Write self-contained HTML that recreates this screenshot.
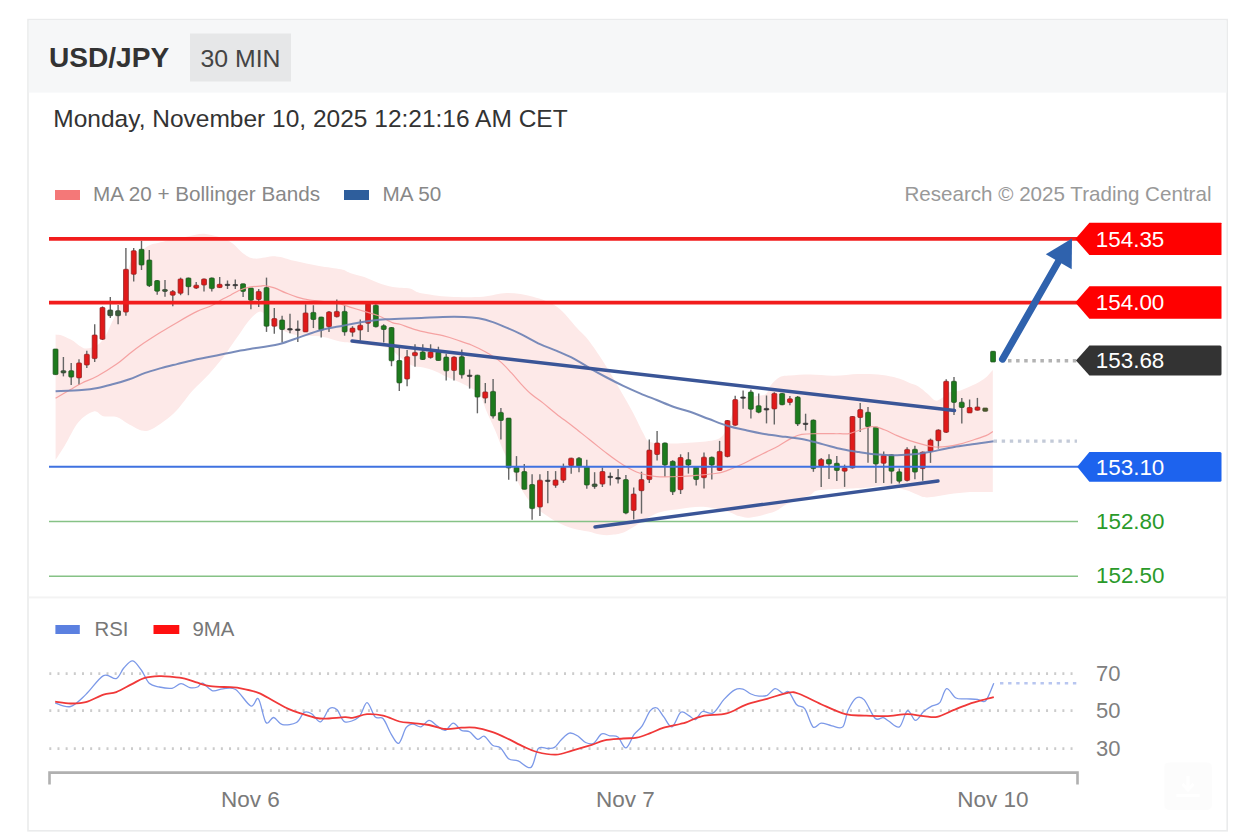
<!DOCTYPE html>
<html><head><meta charset="utf-8"><style>
html,body{margin:0;padding:0;background:#fff;width:1260px;height:840px;overflow:hidden}
svg{display:block;font-family:'Liberation Sans', sans-serif}
</style></head><body>
<svg width="1260" height="840" viewBox="0 0 1260 840">
<rect x="0" y="0" width="1260" height="840" fill="#fff"/>
<rect x="28" y="19.6" width="1199.2" height="811.2" fill="#fff" stroke="#eaebec" stroke-width="1.6"/>
<rect x="28.8" y="20.4" width="1197.6" height="72.2" fill="#f6f7f8"/>
<text x="49" y="67.3" font-size="28.1" font-weight="bold" fill="#333">USD/JPY</text>
<rect x="190" y="33.5" width="101" height="48" fill="#e6e7e8"/>
<text x="200.5" y="66.5" font-size="24.8" fill="#444">30 MIN</text>
<text x="53.3" y="126.7" font-size="24.5" fill="#333">Monday, November 10, 2025 12:21:16 AM CET</text>
<rect x="55" y="190" width="25" height="10" fill="#f47878"/>
<text x="93" y="201.4" font-size="20.7" fill="#888">MA 20 + Bollinger Bands</text>
<rect x="344" y="190" width="25" height="10" fill="#2e5e9c"/>
<text x="382.5" y="201.4" font-size="20.7" fill="#888">MA 50</text>
<text x="1211.5" y="201.4" font-size="20.6" fill="#999" text-anchor="end">Research © 2025 Trading Central</text>
<rect x="28.8" y="596.4" width="1197.6" height="2" fill="#f3f3f3"/>

<path d="M55.6,334.6 C56.6,334.8 59.8,334.9 61.9,335.5 C64.0,336.1 65.9,337.2 67.9,338.2 C69.9,339.1 71.8,339.9 73.8,341.2 C75.8,342.5 77.9,344.8 79.8,346.0 C81.7,347.2 83.0,348.2 85.0,348.5 C87.0,348.8 89.5,348.4 92.0,347.5 C94.5,346.6 97.7,345.1 100.0,343.0 C102.3,340.9 104.0,338.5 106.0,335.0 C108.0,331.5 110.0,326.2 112.0,322.0 C114.0,317.8 116.2,314.2 118.0,310.0 C119.8,305.8 121.5,302.8 123.0,297.0 C124.5,291.2 125.5,281.3 127.0,275.0 C128.5,268.7 130.2,262.8 132.0,259.0 C133.8,255.2 136.3,253.5 138.0,252.0 C139.7,250.5 140.0,251.2 142.0,250.0 C144.0,248.8 147.3,246.2 150.0,245.0 C152.7,243.8 154.7,243.8 158.0,243.0 C161.3,242.2 164.7,241.2 170.0,240.0 C175.3,238.8 184.0,237.0 190.0,236.0 C196.0,235.0 199.5,233.2 206.0,234.0 C212.5,234.8 222.7,237.7 229.0,241.0 C235.3,244.3 239.7,251.1 244.0,254.0 C248.3,256.9 249.7,258.2 255.0,258.6 C260.3,259.0 269.5,256.0 276.0,256.4 C282.5,256.8 286.8,259.1 294.0,260.7 C301.2,262.3 311.2,264.6 319.0,266.0 C326.8,267.4 335.8,268.2 341.0,269.3 C346.2,270.4 346.1,271.6 350.0,272.9 C353.9,274.2 359.5,275.3 364.3,277.0 C369.1,278.7 373.8,281.2 378.6,282.9 C383.4,284.6 387.7,286.1 392.9,287.0 C398.1,287.9 405.5,287.6 410.0,288.6 C414.5,289.6 413.3,291.5 420.0,292.9 C426.7,294.2 439.5,296.1 450.0,296.7 C460.5,297.3 473.5,297.3 483.0,296.7 C492.5,296.1 498.7,293.0 507.0,293.0 C515.3,293.0 524.7,294.4 533.0,296.7 C541.3,299.0 549.7,301.5 557.0,306.7 C564.3,311.9 571.8,322.4 577.0,328.0 C582.2,333.6 583.9,334.4 588.3,340.0 C592.7,345.6 598.3,353.9 603.3,361.7 C608.3,369.5 613.3,378.1 618.3,386.7 C623.3,395.3 629.1,405.5 633.3,413.3 C637.5,421.1 640.5,428.5 643.3,433.3 C646.1,438.1 645.5,440.3 650.0,442.0 C654.5,443.7 661.7,443.5 670.0,443.5 C678.3,443.5 691.7,442.9 700.0,442.0 C708.3,441.1 715.3,440.8 720.0,438.0 C724.7,435.2 725.3,430.5 728.0,425.0 C730.7,419.5 733.2,409.5 736.0,405.0 C738.8,400.5 741.5,399.5 745.0,398.0 C748.5,396.5 753.5,396.7 757.0,396.0 C760.5,395.3 763.7,395.8 766.0,394.0 C768.3,392.2 768.7,387.8 771.0,385.0 C773.3,382.2 776.8,378.6 780.0,377.0 C783.2,375.4 785.0,375.9 790.0,375.5 C795.0,375.1 802.7,374.5 810.0,374.5 C817.3,374.5 826.0,375.8 834.0,375.7 C842.0,375.6 851.3,374.2 858.0,374.0 C864.7,373.8 868.8,373.9 874.0,374.3 C879.2,374.7 885.3,375.5 889.5,376.2 C893.7,376.9 895.8,377.6 899.0,378.6 C902.2,379.6 905.4,381.1 908.6,382.4 C911.8,383.7 914.8,384.3 918.0,386.2 C921.2,388.1 924.7,391.4 927.6,393.8 C930.5,396.2 932.8,399.8 935.2,400.5 C937.6,401.2 939.5,399.4 942.0,398.0 C944.5,396.6 947.2,393.2 950.0,392.0 C952.8,390.8 955.6,392.0 959.0,391.0 C962.4,390.0 967.0,387.8 970.5,386.2 C974.0,384.6 977.3,383.0 980.0,381.4 C982.7,379.8 984.6,378.6 986.7,376.7 C988.8,374.8 991.8,371.1 992.8,370.0 L992.8,492.1 C989.0,492.1 977.4,491.7 970.0,492.1 C962.6,492.5 955.8,493.4 948.6,494.3 C941.4,495.2 932.4,497.5 927.0,497.5 C921.6,497.5 919.9,495.6 916.4,494.3 C912.9,493.1 911.1,491.4 905.7,490.0 C900.4,488.6 891.4,486.1 884.3,485.7 C877.2,485.3 873.6,487.2 862.9,487.9 C852.2,488.6 828.8,488.8 820.0,490.0 C811.2,491.2 815.5,492.6 810.0,495.0 C804.5,497.4 792.6,501.6 786.7,504.3 C780.8,507.0 780.8,509.2 774.8,511.4 C768.8,513.6 757.0,516.6 751.0,517.4 C745.0,518.2 743.0,517.0 739.0,516.0 C735.0,515.0 733.0,512.9 727.0,511.4 C721.0,509.8 711.2,507.1 703.3,506.7 C695.4,506.3 687.4,507.8 679.5,509.0 C671.6,510.2 664.5,510.1 655.7,513.8 C646.9,517.5 634.0,527.5 626.7,531.0 C619.4,534.5 616.5,534.2 612.0,534.8 C607.5,535.4 603.9,535.1 600.0,534.6 C596.1,534.1 592.9,532.5 588.4,531.5 C583.9,530.5 578.2,529.9 573.0,528.4 C567.8,526.9 562.1,524.5 557.4,522.2 C552.7,519.9 549.1,517.4 545.0,514.5 C540.9,511.6 536.9,509.1 533.0,505.0 C529.1,500.9 525.5,496.2 521.8,489.7 C518.1,483.2 514.1,472.6 511.0,466.0 C507.9,459.4 505.7,456.0 503.0,450.0 C500.3,444.0 497.8,436.7 495.0,430.0 C492.2,423.3 488.5,415.9 486.0,410.0 C483.5,404.1 482.5,398.2 480.0,394.5 C477.5,390.8 474.5,390.0 471.0,387.9 C467.5,385.8 463.0,383.7 459.0,381.9 C455.0,380.1 451.1,378.9 447.1,377.1 C443.1,375.3 439.2,372.8 435.2,371.2 C431.2,369.6 427.3,368.6 423.3,367.6 C419.3,366.6 415.3,367.0 411.4,365.2 C407.5,363.4 403.9,359.9 400.0,357.0 C396.1,354.1 393.0,349.9 388.0,348.0 C383.0,346.1 376.0,346.3 370.0,345.5 C364.0,344.7 357.0,343.7 352.0,343.0 C347.0,342.3 345.0,342.6 340.0,341.5 C335.0,340.4 329.3,337.8 322.0,336.7 C314.7,335.6 303.2,336.4 296.0,335.0 C288.8,333.6 283.3,330.8 278.6,328.0 C273.9,325.2 271.1,320.8 268.0,318.0 C264.9,315.2 263.1,311.1 260.0,311.4 C256.9,311.7 252.8,316.4 249.5,320.0 C246.2,323.6 243.2,328.9 240.0,333.3 C236.8,337.8 233.1,343.0 230.5,346.7 C227.9,350.4 228.2,350.8 224.6,355.4 C221.0,360.0 214.0,368.6 208.7,374.4 C203.4,380.2 198.2,384.4 192.9,390.3 C187.6,396.2 181.8,404.9 177.0,410.0 C172.2,415.1 168.6,417.8 164.3,421.0 C160.0,424.2 154.8,427.9 151.0,429.5 C147.2,431.1 145.2,431.4 141.4,430.5 C137.6,429.6 132.2,426.0 128.1,423.8 C124.0,421.6 120.8,418.4 116.7,417.1 C112.6,415.8 107.1,417.1 103.3,416.2 C99.5,415.2 97.9,410.4 93.8,411.4 C89.7,412.3 83.4,416.3 78.6,421.9 C73.8,427.5 69.0,438.4 65.2,444.8 C61.4,451.2 57.2,457.5 55.6,460.0 Z" fill="#fde9e8"/>
<line x1="55.6" y1="349.0" x2="55.6" y2="374.6" stroke="#666" stroke-width="1.4"/>
<rect x="53.1" y="349.0" width="4.9" height="25.6" rx="0.8" fill="#1d7a1d" stroke="#1f4f1f" stroke-width="0.7"/>
<line x1="63.4" y1="357.0" x2="63.4" y2="376.4" stroke="#666" stroke-width="1.4"/>
<rect x="61.0" y="370.7" width="4.9" height="2.2" rx="0.8" fill="#3b5e3b" stroke="#2f3f2f" stroke-width="0.7"/>
<line x1="71.2" y1="362.9" x2="71.2" y2="385.0" stroke="#666" stroke-width="1.4"/>
<rect x="68.8" y="370.7" width="4.9" height="6.4" rx="0.8" fill="#1d7a1d" stroke="#1f4f1f" stroke-width="0.7"/>
<line x1="79.0" y1="359.3" x2="79.0" y2="385.0" stroke="#666" stroke-width="1.4"/>
<rect x="76.6" y="362.9" width="4.9" height="15.0" rx="0.8" fill="#e01a1a" stroke="#8a2020" stroke-width="0.7"/>
<line x1="86.8" y1="350.7" x2="86.8" y2="367.9" stroke="#666" stroke-width="1.4"/>
<rect x="84.4" y="354.3" width="4.9" height="10.7" rx="0.8" fill="#e01a1a" stroke="#8a2020" stroke-width="0.7"/>
<line x1="94.7" y1="324.3" x2="94.7" y2="362.1" stroke="#666" stroke-width="1.4"/>
<rect x="92.2" y="335.0" width="4.9" height="23.6" rx="0.8" fill="#e01a1a" stroke="#8a2020" stroke-width="0.7"/>
<line x1="102.5" y1="306.4" x2="102.5" y2="340.0" stroke="#666" stroke-width="1.4"/>
<rect x="100.0" y="307.5" width="4.9" height="31.8" rx="0.8" fill="#e01a1a" stroke="#8a2020" stroke-width="0.7"/>
<line x1="110.3" y1="297.1" x2="110.3" y2="317.9" stroke="#666" stroke-width="1.4"/>
<rect x="107.8" y="310.0" width="4.9" height="5.7" rx="0.8" fill="#3b5e3b" stroke="#2f3f2f" stroke-width="0.7"/>
<line x1="118.1" y1="305.0" x2="118.1" y2="324.3" stroke="#666" stroke-width="1.4"/>
<rect x="115.6" y="310.7" width="4.9" height="5.0" rx="0.8" fill="#3b5e3b" stroke="#2f3f2f" stroke-width="0.7"/>
<line x1="125.9" y1="247.9" x2="125.9" y2="315.7" stroke="#666" stroke-width="1.4"/>
<rect x="123.5" y="269.3" width="4.9" height="42.8" rx="0.8" fill="#e01a1a" stroke="#8a2020" stroke-width="0.7"/>
<line x1="133.7" y1="247.9" x2="133.7" y2="281.4" stroke="#666" stroke-width="1.4"/>
<rect x="131.3" y="250.7" width="4.9" height="23.6" rx="0.8" fill="#e01a1a" stroke="#8a2020" stroke-width="0.7"/>
<line x1="141.5" y1="240.7" x2="141.5" y2="270.0" stroke="#666" stroke-width="1.4"/>
<rect x="139.1" y="249.3" width="4.9" height="15.7" rx="0.8" fill="#1d7a1d" stroke="#1f4f1f" stroke-width="0.7"/>
<line x1="149.3" y1="250.0" x2="149.3" y2="287.1" stroke="#666" stroke-width="1.4"/>
<rect x="146.9" y="260.0" width="4.9" height="25.7" rx="0.8" fill="#1d7a1d" stroke="#1f4f1f" stroke-width="0.7"/>
<line x1="157.2" y1="280.0" x2="157.2" y2="294.8" stroke="#666" stroke-width="1.4"/>
<rect x="154.7" y="280.6" width="4.9" height="10.6" rx="0.8" fill="#1d7a1d" stroke="#1f4f1f" stroke-width="0.7"/>
<line x1="165.0" y1="280.0" x2="165.0" y2="296.7" stroke="#666" stroke-width="1.4"/>
<rect x="162.5" y="289.5" width="4.9" height="1.9" rx="0.8" fill="#3b5e3b" stroke="#2f3f2f" stroke-width="0.7"/>
<line x1="172.8" y1="290.0" x2="172.8" y2="306.2" stroke="#666" stroke-width="1.4"/>
<rect x="170.3" y="291.4" width="4.9" height="3.8" rx="0.8" fill="#e01a1a" stroke="#8a2020" stroke-width="0.7"/>
<line x1="180.6" y1="277.6" x2="180.6" y2="295.2" stroke="#666" stroke-width="1.4"/>
<rect x="178.1" y="279.0" width="4.9" height="14.3" rx="0.8" fill="#e01a1a" stroke="#8a2020" stroke-width="0.7"/>
<line x1="188.4" y1="277.6" x2="188.4" y2="295.2" stroke="#666" stroke-width="1.4"/>
<rect x="186.0" y="278.0" width="4.9" height="8.7" rx="0.8" fill="#1d7a1d" stroke="#1f4f1f" stroke-width="0.7"/>
<line x1="196.2" y1="282.0" x2="196.2" y2="289.0" stroke="#666" stroke-width="1.4"/>
<rect x="193.8" y="285.2" width="4.9" height="2.9" rx="0.8" fill="#e01a1a" stroke="#8a2020" stroke-width="0.7"/>
<line x1="204.0" y1="278.6" x2="204.0" y2="291.4" stroke="#666" stroke-width="1.4"/>
<rect x="201.6" y="279.0" width="4.9" height="6.0" rx="0.8" fill="#e01a1a" stroke="#8a2020" stroke-width="0.7"/>
<line x1="211.8" y1="277.6" x2="211.8" y2="291.4" stroke="#666" stroke-width="1.4"/>
<rect x="209.4" y="278.0" width="4.9" height="10.6" rx="0.8" fill="#1d7a1d" stroke="#1f4f1f" stroke-width="0.7"/>
<line x1="219.7" y1="277.1" x2="219.7" y2="288.1" stroke="#666" stroke-width="1.4"/>
<rect x="217.2" y="284.3" width="4.9" height="3.3" rx="0.8" fill="#e01a1a" stroke="#8a2020" stroke-width="0.7"/>
<line x1="227.5" y1="280.5" x2="227.5" y2="289.0" stroke="#666" stroke-width="1.4"/>
<rect x="225.0" y="284.3" width="4.9" height="1.2" rx="0.8" fill="#333" stroke="#333" stroke-width="0.7"/>
<line x1="235.3" y1="279.5" x2="235.3" y2="289.0" stroke="#666" stroke-width="1.4"/>
<rect x="232.8" y="284.5" width="4.9" height="1.2" rx="0.8" fill="#333" stroke="#333" stroke-width="0.7"/>
<line x1="243.1" y1="283.8" x2="243.1" y2="297.1" stroke="#666" stroke-width="1.4"/>
<rect x="240.6" y="283.8" width="4.9" height="7.6" rx="0.8" fill="#1d7a1d" stroke="#1f4f1f" stroke-width="0.7"/>
<line x1="250.9" y1="288.0" x2="250.9" y2="309.3" stroke="#666" stroke-width="1.4"/>
<rect x="248.5" y="288.0" width="4.9" height="12.3" rx="0.8" fill="#1d7a1d" stroke="#1f4f1f" stroke-width="0.7"/>
<line x1="258.7" y1="289.0" x2="258.7" y2="307.0" stroke="#666" stroke-width="1.4"/>
<rect x="256.3" y="291.4" width="4.9" height="8.1" rx="0.8" fill="#e01a1a" stroke="#8a2020" stroke-width="0.7"/>
<line x1="266.5" y1="277.6" x2="266.5" y2="331.9" stroke="#666" stroke-width="1.4"/>
<rect x="264.1" y="287.6" width="4.9" height="38.6" rx="0.8" fill="#1d7a1d" stroke="#1f4f1f" stroke-width="0.7"/>
<line x1="274.3" y1="308.0" x2="274.3" y2="333.8" stroke="#666" stroke-width="1.4"/>
<rect x="271.9" y="318.6" width="4.9" height="7.6" rx="0.8" fill="#e01a1a" stroke="#8a2020" stroke-width="0.7"/>
<line x1="282.1" y1="315.7" x2="282.1" y2="342.4" stroke="#666" stroke-width="1.4"/>
<rect x="279.7" y="320.0" width="4.9" height="9.5" rx="0.8" fill="#1d7a1d" stroke="#1f4f1f" stroke-width="0.7"/>
<line x1="290.0" y1="313.8" x2="290.0" y2="333.3" stroke="#666" stroke-width="1.4"/>
<rect x="287.5" y="328.6" width="4.9" height="1.4" rx="0.8" fill="#333" stroke="#333" stroke-width="0.7"/>
<line x1="297.8" y1="320.5" x2="297.8" y2="341.9" stroke="#666" stroke-width="1.4"/>
<rect x="295.3" y="329.0" width="4.9" height="1.5" rx="0.8" fill="#333" stroke="#333" stroke-width="0.7"/>
<line x1="305.6" y1="304.3" x2="305.6" y2="331.9" stroke="#666" stroke-width="1.4"/>
<rect x="303.1" y="312.9" width="4.9" height="19.0" rx="0.8" fill="#e01a1a" stroke="#8a2020" stroke-width="0.7"/>
<line x1="313.4" y1="305.2" x2="313.4" y2="328.1" stroke="#666" stroke-width="1.4"/>
<rect x="310.9" y="312.4" width="4.9" height="7.1" rx="0.8" fill="#1d7a1d" stroke="#1f4f1f" stroke-width="0.7"/>
<line x1="321.2" y1="316.7" x2="321.2" y2="337.6" stroke="#666" stroke-width="1.4"/>
<rect x="318.8" y="317.1" width="4.9" height="12.9" rx="0.8" fill="#1d7a1d" stroke="#1f4f1f" stroke-width="0.7"/>
<line x1="329.0" y1="311.0" x2="329.0" y2="331.9" stroke="#666" stroke-width="1.4"/>
<rect x="326.6" y="311.9" width="4.9" height="14.8" rx="0.8" fill="#e01a1a" stroke="#8a2020" stroke-width="0.7"/>
<line x1="336.8" y1="299.5" x2="336.8" y2="317.6" stroke="#666" stroke-width="1.4"/>
<rect x="334.4" y="311.4" width="4.9" height="5.3" rx="0.8" fill="#e01a1a" stroke="#8a2020" stroke-width="0.7"/>
<line x1="344.6" y1="305.2" x2="344.6" y2="335.7" stroke="#666" stroke-width="1.4"/>
<rect x="342.2" y="311.4" width="4.9" height="20.5" rx="0.8" fill="#1d7a1d" stroke="#1f4f1f" stroke-width="0.7"/>
<line x1="352.5" y1="326.2" x2="352.5" y2="336.7" stroke="#666" stroke-width="1.4"/>
<rect x="350.0" y="328.1" width="4.9" height="4.1" rx="0.8" fill="#e01a1a" stroke="#8a2020" stroke-width="0.7"/>
<line x1="360.3" y1="319.5" x2="360.3" y2="340.5" stroke="#666" stroke-width="1.4"/>
<rect x="357.8" y="325.2" width="4.9" height="4.8" rx="0.8" fill="#e01a1a" stroke="#8a2020" stroke-width="0.7"/>
<line x1="368.1" y1="303.3" x2="368.1" y2="331.9" stroke="#666" stroke-width="1.4"/>
<rect x="365.6" y="303.8" width="4.9" height="19.5" rx="0.8" fill="#e01a1a" stroke="#8a2020" stroke-width="0.7"/>
<line x1="375.9" y1="304.3" x2="375.9" y2="327.6" stroke="#666" stroke-width="1.4"/>
<rect x="373.4" y="305.2" width="4.9" height="21.5" rx="0.8" fill="#1d7a1d" stroke="#1f4f1f" stroke-width="0.7"/>
<line x1="383.7" y1="324.3" x2="383.7" y2="342.4" stroke="#666" stroke-width="1.4"/>
<rect x="381.3" y="325.7" width="4.9" height="3.8" rx="0.8" fill="#1d7a1d" stroke="#1f4f1f" stroke-width="0.7"/>
<line x1="391.5" y1="327.1" x2="391.5" y2="366.2" stroke="#666" stroke-width="1.4"/>
<rect x="389.1" y="327.6" width="4.9" height="33.2" rx="0.8" fill="#1d7a1d" stroke="#1f4f1f" stroke-width="0.7"/>
<line x1="399.3" y1="348.1" x2="399.3" y2="391.0" stroke="#666" stroke-width="1.4"/>
<rect x="396.9" y="360.5" width="4.9" height="22.4" rx="0.8" fill="#1d7a1d" stroke="#1f4f1f" stroke-width="0.7"/>
<line x1="407.1" y1="350.0" x2="407.1" y2="386.2" stroke="#666" stroke-width="1.4"/>
<rect x="404.7" y="356.7" width="4.9" height="22.3" rx="0.8" fill="#e01a1a" stroke="#8a2020" stroke-width="0.7"/>
<line x1="415.0" y1="344.3" x2="415.0" y2="366.7" stroke="#666" stroke-width="1.4"/>
<rect x="412.5" y="352.4" width="4.9" height="3.3" rx="0.8" fill="#e01a1a" stroke="#8a2020" stroke-width="0.7"/>
<line x1="422.8" y1="344.3" x2="422.8" y2="360.0" stroke="#666" stroke-width="1.4"/>
<rect x="420.3" y="351.9" width="4.9" height="7.6" rx="0.8" fill="#1d7a1d" stroke="#1f4f1f" stroke-width="0.7"/>
<line x1="430.6" y1="344.3" x2="430.6" y2="358.6" stroke="#666" stroke-width="1.4"/>
<rect x="428.1" y="351.9" width="4.9" height="5.7" rx="0.8" fill="#e01a1a" stroke="#8a2020" stroke-width="0.7"/>
<line x1="438.4" y1="346.7" x2="438.4" y2="360.5" stroke="#666" stroke-width="1.4"/>
<rect x="435.9" y="351.9" width="4.9" height="8.6" rx="0.8" fill="#1d7a1d" stroke="#1f4f1f" stroke-width="0.7"/>
<line x1="446.2" y1="353.8" x2="446.2" y2="380.5" stroke="#666" stroke-width="1.4"/>
<rect x="443.8" y="357.1" width="4.9" height="13.7" rx="0.8" fill="#1d7a1d" stroke="#1f4f1f" stroke-width="0.7"/>
<line x1="454.0" y1="356.2" x2="454.0" y2="380.5" stroke="#666" stroke-width="1.4"/>
<rect x="451.6" y="357.1" width="4.9" height="13.4" rx="0.8" fill="#e01a1a" stroke="#8a2020" stroke-width="0.7"/>
<line x1="461.8" y1="349.5" x2="461.8" y2="378.6" stroke="#666" stroke-width="1.4"/>
<rect x="459.4" y="356.7" width="4.9" height="18.1" rx="0.8" fill="#1d7a1d" stroke="#1f4f1f" stroke-width="0.7"/>
<line x1="469.6" y1="369.5" x2="469.6" y2="388.6" stroke="#666" stroke-width="1.4"/>
<rect x="467.2" y="375.2" width="4.9" height="1.2" rx="0.8" fill="#333" stroke="#333" stroke-width="0.7"/>
<line x1="477.4" y1="374.8" x2="477.4" y2="413.3" stroke="#666" stroke-width="1.4"/>
<rect x="475.0" y="375.2" width="4.9" height="21.9" rx="0.8" fill="#1d7a1d" stroke="#1f4f1f" stroke-width="0.7"/>
<line x1="485.3" y1="382.9" x2="485.3" y2="403.3" stroke="#666" stroke-width="1.4"/>
<rect x="482.8" y="391.9" width="4.9" height="6.2" rx="0.8" fill="#e01a1a" stroke="#8a2020" stroke-width="0.7"/>
<line x1="493.1" y1="379.0" x2="493.1" y2="418.6" stroke="#666" stroke-width="1.4"/>
<rect x="490.6" y="391.4" width="4.9" height="24.6" rx="0.8" fill="#1d7a1d" stroke="#1f4f1f" stroke-width="0.7"/>
<line x1="500.9" y1="408.0" x2="500.9" y2="439.5" stroke="#666" stroke-width="1.4"/>
<rect x="498.4" y="412.4" width="4.9" height="8.1" rx="0.8" fill="#1d7a1d" stroke="#1f4f1f" stroke-width="0.7"/>
<line x1="508.7" y1="418.1" x2="508.7" y2="479.7" stroke="#666" stroke-width="1.4"/>
<rect x="506.2" y="418.1" width="4.9" height="49.8" rx="0.8" fill="#1d7a1d" stroke="#1f4f1f" stroke-width="0.7"/>
<line x1="516.5" y1="456.1" x2="516.5" y2="481.3" stroke="#666" stroke-width="1.4"/>
<rect x="514.1" y="467.3" width="4.9" height="4.9" rx="0.8" fill="#1d7a1d" stroke="#1f4f1f" stroke-width="0.7"/>
<line x1="524.3" y1="464.1" x2="524.3" y2="489.3" stroke="#666" stroke-width="1.4"/>
<rect x="521.9" y="471.6" width="4.9" height="17.7" rx="0.8" fill="#1d7a1d" stroke="#1f4f1f" stroke-width="0.7"/>
<line x1="532.1" y1="474.3" x2="532.1" y2="519.8" stroke="#666" stroke-width="1.4"/>
<rect x="529.7" y="484.5" width="4.9" height="24.1" rx="0.8" fill="#1d7a1d" stroke="#1f4f1f" stroke-width="0.7"/>
<line x1="539.9" y1="474.3" x2="539.9" y2="516.1" stroke="#666" stroke-width="1.4"/>
<rect x="537.5" y="480.2" width="4.9" height="26.8" rx="0.8" fill="#e01a1a" stroke="#8a2020" stroke-width="0.7"/>
<line x1="547.8" y1="471.1" x2="547.8" y2="503.2" stroke="#666" stroke-width="1.4"/>
<rect x="545.3" y="480.2" width="4.9" height="1.2" rx="0.8" fill="#333" stroke="#333" stroke-width="0.7"/>
<line x1="555.6" y1="471.1" x2="555.6" y2="487.8" stroke="#666" stroke-width="1.4"/>
<rect x="553.1" y="480.0" width="4.9" height="5.3" rx="0.8" fill="#e01a1a" stroke="#8a2020" stroke-width="0.7"/>
<line x1="563.4" y1="463.6" x2="563.4" y2="482.9" stroke="#666" stroke-width="1.4"/>
<rect x="560.9" y="467.3" width="4.9" height="12.9" rx="0.8" fill="#e01a1a" stroke="#8a2020" stroke-width="0.7"/>
<line x1="571.2" y1="457.7" x2="571.2" y2="473.8" stroke="#666" stroke-width="1.4"/>
<rect x="568.7" y="458.2" width="4.9" height="7.5" rx="0.8" fill="#e01a1a" stroke="#8a2020" stroke-width="0.7"/>
<line x1="579.0" y1="457.1" x2="579.0" y2="472.2" stroke="#666" stroke-width="1.4"/>
<rect x="576.6" y="458.2" width="4.9" height="8.1" rx="0.8" fill="#1d7a1d" stroke="#1f4f1f" stroke-width="0.7"/>
<line x1="586.8" y1="459.8" x2="586.8" y2="488.8" stroke="#666" stroke-width="1.4"/>
<rect x="584.4" y="466.8" width="4.9" height="18.2" rx="0.8" fill="#1d7a1d" stroke="#1f4f1f" stroke-width="0.7"/>
<line x1="594.6" y1="472.2" x2="594.6" y2="488.8" stroke="#666" stroke-width="1.4"/>
<rect x="592.2" y="484.0" width="4.9" height="2.6" rx="0.8" fill="#3b5e3b" stroke="#2f3f2f" stroke-width="0.7"/>
<line x1="602.4" y1="467.5" x2="602.4" y2="487.0" stroke="#666" stroke-width="1.4"/>
<rect x="600.0" y="471.5" width="4.9" height="12.6" rx="0.8" fill="#e01a1a" stroke="#8a2020" stroke-width="0.7"/>
<line x1="610.3" y1="472.4" x2="610.3" y2="485.5" stroke="#666" stroke-width="1.4"/>
<rect x="607.8" y="476.3" width="4.9" height="1.3" rx="0.8" fill="#333" stroke="#333" stroke-width="0.7"/>
<line x1="618.1" y1="469.1" x2="618.1" y2="483.5" stroke="#666" stroke-width="1.4"/>
<rect x="615.6" y="477.6" width="4.9" height="1.4" rx="0.8" fill="#333" stroke="#333" stroke-width="0.7"/>
<line x1="625.9" y1="475.0" x2="625.9" y2="514.3" stroke="#666" stroke-width="1.4"/>
<rect x="623.4" y="479.6" width="4.9" height="33.4" rx="0.8" fill="#1d7a1d" stroke="#1f4f1f" stroke-width="0.7"/>
<line x1="633.7" y1="487.4" x2="633.7" y2="519.5" stroke="#666" stroke-width="1.4"/>
<rect x="631.2" y="494.0" width="4.9" height="16.4" rx="0.8" fill="#e01a1a" stroke="#8a2020" stroke-width="0.7"/>
<line x1="641.5" y1="471.7" x2="641.5" y2="513.6" stroke="#666" stroke-width="1.4"/>
<rect x="639.0" y="479.6" width="4.9" height="11.1" rx="0.8" fill="#e01a1a" stroke="#8a2020" stroke-width="0.7"/>
<line x1="649.3" y1="439.6" x2="649.3" y2="482.9" stroke="#666" stroke-width="1.4"/>
<rect x="646.9" y="450.1" width="4.9" height="29.5" rx="0.8" fill="#e01a1a" stroke="#8a2020" stroke-width="0.7"/>
<line x1="657.1" y1="430.9" x2="657.1" y2="460.6" stroke="#666" stroke-width="1.4"/>
<rect x="654.7" y="443.0" width="4.9" height="11.5" rx="0.8" fill="#e01a1a" stroke="#8a2020" stroke-width="0.7"/>
<line x1="664.9" y1="442.5" x2="664.9" y2="476.8" stroke="#666" stroke-width="1.4"/>
<rect x="662.5" y="443.0" width="4.9" height="22.0" rx="0.8" fill="#1d7a1d" stroke="#1f4f1f" stroke-width="0.7"/>
<line x1="672.7" y1="460.2" x2="672.7" y2="495.0" stroke="#666" stroke-width="1.4"/>
<rect x="670.3" y="461.3" width="4.9" height="30.5" rx="0.8" fill="#1d7a1d" stroke="#1f4f1f" stroke-width="0.7"/>
<line x1="680.6" y1="454.3" x2="680.6" y2="494.0" stroke="#666" stroke-width="1.4"/>
<rect x="678.1" y="457.5" width="4.9" height="32.2" rx="0.8" fill="#e01a1a" stroke="#8a2020" stroke-width="0.7"/>
<line x1="688.4" y1="452.2" x2="688.4" y2="473.6" stroke="#666" stroke-width="1.4"/>
<rect x="685.9" y="459.7" width="4.9" height="5.3" rx="0.8" fill="#1d7a1d" stroke="#1f4f1f" stroke-width="0.7"/>
<line x1="696.2" y1="466.1" x2="696.2" y2="485.4" stroke="#666" stroke-width="1.4"/>
<rect x="693.7" y="467.2" width="4.9" height="12.3" rx="0.8" fill="#1d7a1d" stroke="#1f4f1f" stroke-width="0.7"/>
<line x1="704.0" y1="452.5" x2="704.0" y2="488.6" stroke="#666" stroke-width="1.4"/>
<rect x="701.5" y="457.2" width="4.9" height="20.5" rx="0.8" fill="#e01a1a" stroke="#8a2020" stroke-width="0.7"/>
<line x1="711.8" y1="456.6" x2="711.8" y2="479.5" stroke="#666" stroke-width="1.4"/>
<rect x="709.4" y="457.3" width="4.9" height="7.8" rx="0.8" fill="#1d7a1d" stroke="#1f4f1f" stroke-width="0.7"/>
<line x1="719.6" y1="440.9" x2="719.6" y2="471.0" stroke="#666" stroke-width="1.4"/>
<rect x="717.2" y="451.4" width="4.9" height="19.0" rx="0.8" fill="#e01a1a" stroke="#8a2020" stroke-width="0.7"/>
<line x1="727.4" y1="420.0" x2="727.4" y2="457.3" stroke="#666" stroke-width="1.4"/>
<rect x="725.0" y="420.6" width="4.9" height="36.0" rx="0.8" fill="#e01a1a" stroke="#8a2020" stroke-width="0.7"/>
<line x1="735.2" y1="395.7" x2="735.2" y2="425.8" stroke="#666" stroke-width="1.4"/>
<rect x="732.8" y="399.6" width="4.9" height="25.6" rx="0.8" fill="#e01a1a" stroke="#8a2020" stroke-width="0.7"/>
<line x1="743.1" y1="390.5" x2="743.1" y2="408.8" stroke="#666" stroke-width="1.4"/>
<rect x="740.6" y="397.0" width="4.9" height="1.3" rx="0.8" fill="#333" stroke="#333" stroke-width="0.7"/>
<line x1="750.9" y1="389.8" x2="750.9" y2="418.6" stroke="#666" stroke-width="1.4"/>
<rect x="748.4" y="392.0" width="4.9" height="17.2" rx="0.8" fill="#1d7a1d" stroke="#1f4f1f" stroke-width="0.7"/>
<line x1="758.7" y1="393.4" x2="758.7" y2="413.2" stroke="#666" stroke-width="1.4"/>
<rect x="756.2" y="405.7" width="4.9" height="6.5" rx="0.8" fill="#1d7a1d" stroke="#1f4f1f" stroke-width="0.7"/>
<line x1="766.5" y1="395.5" x2="766.5" y2="423.4" stroke="#666" stroke-width="1.4"/>
<rect x="764.0" y="408.4" width="4.9" height="1.6" rx="0.8" fill="#333" stroke="#333" stroke-width="0.7"/>
<line x1="774.3" y1="392.3" x2="774.3" y2="424.5" stroke="#666" stroke-width="1.4"/>
<rect x="771.9" y="393.4" width="4.9" height="15.5" rx="0.8" fill="#e01a1a" stroke="#8a2020" stroke-width="0.7"/>
<line x1="782.1" y1="392.9" x2="782.1" y2="405.2" stroke="#666" stroke-width="1.4"/>
<rect x="779.7" y="393.4" width="4.9" height="11.3" rx="0.8" fill="#1d7a1d" stroke="#1f4f1f" stroke-width="0.7"/>
<line x1="789.9" y1="396.0" x2="789.9" y2="405.2" stroke="#666" stroke-width="1.4"/>
<rect x="787.5" y="398.8" width="4.9" height="3.7" rx="0.8" fill="#e01a1a" stroke="#8a2020" stroke-width="0.7"/>
<line x1="797.7" y1="396.0" x2="797.7" y2="426.1" stroke="#666" stroke-width="1.4"/>
<rect x="795.3" y="397.1" width="4.9" height="26.8" rx="0.8" fill="#1d7a1d" stroke="#1f4f1f" stroke-width="0.7"/>
<line x1="805.6" y1="413.7" x2="805.6" y2="430.5" stroke="#666" stroke-width="1.4"/>
<rect x="803.1" y="423.2" width="4.9" height="1.3" rx="0.8" fill="#333" stroke="#333" stroke-width="0.7"/>
<line x1="813.4" y1="419.5" x2="813.4" y2="471.8" stroke="#666" stroke-width="1.4"/>
<rect x="810.9" y="420.1" width="4.9" height="48.5" rx="0.8" fill="#1d7a1d" stroke="#1f4f1f" stroke-width="0.7"/>
<line x1="821.2" y1="458.1" x2="821.2" y2="486.9" stroke="#666" stroke-width="1.4"/>
<rect x="818.7" y="459.4" width="4.9" height="6.6" rx="0.8" fill="#e01a1a" stroke="#8a2020" stroke-width="0.7"/>
<line x1="829.0" y1="454.2" x2="829.0" y2="479.0" stroke="#666" stroke-width="1.4"/>
<rect x="826.5" y="459.4" width="4.9" height="4.6" rx="0.8" fill="#1d7a1d" stroke="#1f4f1f" stroke-width="0.7"/>
<line x1="836.8" y1="456.1" x2="836.8" y2="481.0" stroke="#666" stroke-width="1.4"/>
<rect x="834.4" y="463.3" width="4.9" height="7.2" rx="0.8" fill="#1d7a1d" stroke="#1f4f1f" stroke-width="0.7"/>
<line x1="844.6" y1="464.6" x2="844.6" y2="486.9" stroke="#666" stroke-width="1.4"/>
<rect x="842.2" y="467.9" width="4.9" height="3.3" rx="0.8" fill="#e01a1a" stroke="#8a2020" stroke-width="0.7"/>
<line x1="852.4" y1="416.2" x2="852.4" y2="468.6" stroke="#666" stroke-width="1.4"/>
<rect x="850.0" y="416.5" width="4.9" height="51.4" rx="0.8" fill="#e01a1a" stroke="#8a2020" stroke-width="0.7"/>
<line x1="860.2" y1="403.1" x2="860.2" y2="431.9" stroke="#666" stroke-width="1.4"/>
<rect x="857.8" y="409.6" width="4.9" height="7.9" rx="0.8" fill="#e01a1a" stroke="#8a2020" stroke-width="0.7"/>
<line x1="868.0" y1="407.0" x2="868.0" y2="462.7" stroke="#666" stroke-width="1.4"/>
<rect x="865.6" y="412.3" width="4.9" height="14.4" rx="0.8" fill="#1d7a1d" stroke="#1f4f1f" stroke-width="0.7"/>
<line x1="875.9" y1="426.7" x2="875.9" y2="483.0" stroke="#666" stroke-width="1.4"/>
<rect x="873.4" y="427.3" width="4.9" height="36.7" rx="0.8" fill="#1d7a1d" stroke="#1f4f1f" stroke-width="0.7"/>
<line x1="883.7" y1="451.6" x2="883.7" y2="483.0" stroke="#666" stroke-width="1.4"/>
<rect x="881.2" y="455.5" width="4.9" height="7.8" rx="0.8" fill="#e01a1a" stroke="#8a2020" stroke-width="0.7"/>
<line x1="891.5" y1="454.2" x2="891.5" y2="483.6" stroke="#666" stroke-width="1.4"/>
<rect x="889.0" y="454.8" width="4.9" height="16.4" rx="0.8" fill="#1d7a1d" stroke="#1f4f1f" stroke-width="0.7"/>
<line x1="899.3" y1="468.6" x2="899.3" y2="483.6" stroke="#666" stroke-width="1.4"/>
<rect x="896.8" y="471.8" width="4.9" height="9.4" rx="0.8" fill="#1d7a1d" stroke="#1f4f1f" stroke-width="0.7"/>
<line x1="907.1" y1="447.3" x2="907.1" y2="481.5" stroke="#666" stroke-width="1.4"/>
<rect x="904.7" y="449.4" width="4.9" height="31.1" rx="0.8" fill="#e01a1a" stroke="#8a2020" stroke-width="0.7"/>
<line x1="914.9" y1="445.7" x2="914.9" y2="479.3" stroke="#666" stroke-width="1.4"/>
<rect x="912.5" y="449.3" width="4.9" height="22.8" rx="0.8" fill="#1d7a1d" stroke="#1f4f1f" stroke-width="0.7"/>
<line x1="922.7" y1="451.4" x2="922.7" y2="480.7" stroke="#666" stroke-width="1.4"/>
<rect x="920.3" y="452.1" width="4.9" height="16.5" rx="0.8" fill="#e01a1a" stroke="#8a2020" stroke-width="0.7"/>
<line x1="930.5" y1="438.6" x2="930.5" y2="462.9" stroke="#666" stroke-width="1.4"/>
<rect x="928.1" y="440.0" width="4.9" height="11.4" rx="0.8" fill="#e01a1a" stroke="#8a2020" stroke-width="0.7"/>
<line x1="938.4" y1="429.3" x2="938.4" y2="448.6" stroke="#666" stroke-width="1.4"/>
<rect x="935.9" y="430.0" width="4.9" height="10.7" rx="0.8" fill="#e01a1a" stroke="#8a2020" stroke-width="0.7"/>
<line x1="946.2" y1="379.3" x2="946.2" y2="432.9" stroke="#666" stroke-width="1.4"/>
<rect x="943.7" y="381.3" width="4.9" height="51.0" rx="0.8" fill="#e01a1a" stroke="#8a2020" stroke-width="0.7"/>
<line x1="954.0" y1="377.0" x2="954.0" y2="415.0" stroke="#666" stroke-width="1.4"/>
<rect x="951.5" y="381.3" width="4.9" height="21.1" rx="0.8" fill="#1d7a1d" stroke="#1f4f1f" stroke-width="0.7"/>
<line x1="961.8" y1="397.9" x2="961.8" y2="423.4" stroke="#666" stroke-width="1.4"/>
<rect x="959.3" y="402.2" width="4.9" height="5.3" rx="0.8" fill="#1d7a1d" stroke="#1f4f1f" stroke-width="0.7"/>
<line x1="969.6" y1="399.5" x2="969.6" y2="412.9" stroke="#666" stroke-width="1.4"/>
<rect x="967.2" y="407.5" width="4.9" height="5.4" rx="0.8" fill="#e01a1a" stroke="#8a2020" stroke-width="0.7"/>
<line x1="977.4" y1="397.9" x2="977.4" y2="410.5" stroke="#666" stroke-width="1.4"/>
<rect x="975.0" y="407.0" width="4.9" height="3.2" rx="0.8" fill="#e01a1a" stroke="#8a2020" stroke-width="0.7"/>
<line x1="985.2" y1="408.0" x2="985.2" y2="411.3" stroke="#666" stroke-width="1.4"/>
<rect x="982.8" y="408.0" width="4.9" height="3.3" rx="0.8" fill="#4d5a2a" stroke="#3d4a2a" stroke-width="0.7"/>
<line x1="993.0" y1="351.3" x2="993.0" y2="362.0" stroke="#666" stroke-width="1.4"/>
<rect x="990.6" y="351.3" width="4.9" height="10.7" rx="0.8" fill="#1d7a1d" stroke="#1f4f1f" stroke-width="0.7"/>
<path d="M55.6,398.3 C58.1,396.8 66.2,392.0 70.6,389.5 C74.9,387.0 77.2,385.4 81.7,383.2 C86.2,380.9 91.8,379.2 97.6,376.0 C103.4,372.8 111.4,367.8 116.7,364.1 C122.0,360.4 125.5,356.9 129.4,353.8 C133.3,350.7 135.1,349.1 140.0,345.7 C144.9,342.3 152.7,337.3 159.0,333.3 C165.3,329.3 171.8,325.5 178.1,321.9 C184.4,318.2 191.5,314.1 197.1,311.4 C202.7,308.7 207.4,307.6 211.4,305.7 C215.4,303.8 217.8,301.8 221.0,300.0 C224.2,298.2 227.5,296.8 230.5,295.2 C233.5,293.6 235.8,291.9 239.0,290.5 C242.2,289.1 246.0,287.8 249.5,287.1 C253.0,286.4 257.5,286.4 260.0,286.2 C262.5,286.0 261.9,285.4 264.3,285.7 C266.7,286.0 270.7,286.7 274.3,287.9 C277.9,289.1 281.9,291.4 285.7,292.9 C289.5,294.4 293.1,295.9 297.1,297.1 C301.2,298.3 303.6,299.0 310.0,300.0 C316.4,301.0 329.0,301.7 335.7,302.9 C342.4,304.1 345.2,305.7 350.0,307.1 C354.8,308.5 359.5,310.0 364.3,311.4 C369.1,312.8 373.8,313.8 378.6,315.7 C383.4,317.6 389.3,321.5 392.9,322.9 C396.5,324.3 396.4,323.2 400.0,324.3 C403.6,325.4 409.5,327.9 414.3,329.3 C419.1,330.7 423.8,331.8 428.6,332.9 C433.4,334.0 438.1,334.5 442.9,335.7 C447.6,336.9 452.4,338.4 457.1,340.0 C461.9,341.6 466.6,343.0 471.4,345.0 C476.2,347.0 480.9,349.4 485.7,352.1 C490.5,354.8 495.7,357.9 500.0,361.4 C504.3,364.9 507.8,369.1 511.4,372.9 C515.0,376.7 518.1,380.7 521.4,384.3 C524.7,387.9 527.8,391.2 531.4,394.3 C535.0,397.4 538.7,399.6 542.9,402.9 C547.1,406.2 551.6,410.2 556.7,414.2 C561.8,418.2 567.8,422.4 573.3,426.7 C578.8,431.0 584.4,435.6 590.0,440.0 C595.6,444.4 601.2,449.1 606.7,453.3 C612.2,457.5 617.8,461.7 623.3,465.0 C628.8,468.3 634.4,471.4 640.0,473.3 C645.6,475.2 650.0,476.2 656.7,476.7 C663.4,477.2 672.8,476.8 680.0,476.5 C687.2,476.2 694.1,475.5 700.0,475.0 C705.9,474.5 711.1,474.1 715.4,473.5 C719.7,472.9 721.4,472.6 725.6,471.1 C729.8,469.7 736.1,466.9 740.8,464.8 C745.4,462.7 749.3,460.5 753.5,458.4 C757.7,456.3 762.0,454.2 766.2,452.1 C770.4,450.0 774.7,448.0 778.9,445.7 C783.1,443.4 787.8,440.0 791.6,438.1 C795.4,436.2 797.5,435.0 801.7,434.3 C805.9,433.6 812.3,433.8 817.0,433.7 C821.7,433.6 825.9,433.7 829.7,433.7 C833.5,433.7 836.6,433.8 840.0,433.7 C843.4,433.6 844.9,434.5 850.2,433.3 C855.5,432.1 866.0,427.3 871.7,426.7 C877.4,426.1 880.2,428.3 884.4,429.8 C888.6,431.3 892.9,433.8 897.1,435.6 C901.3,437.4 905.6,439.1 909.8,440.6 C914.0,442.1 918.3,443.3 922.5,444.4 C926.7,445.5 931.0,446.7 935.2,447.0 C939.4,447.3 943.7,446.8 947.9,446.3 C952.1,445.8 956.4,444.9 960.6,443.8 C964.8,442.8 969.1,441.4 973.3,440.0 C977.5,438.6 982.8,437.0 986.0,435.6 C989.2,434.2 991.7,432.2 992.8,431.5" fill="none" stroke="#f49a9a" stroke-width="1.2" stroke-opacity="0.9"/>
<path d="M55.6,391.2 C60.0,391.0 74.7,390.6 81.7,390.0 C88.7,389.4 92.3,388.9 97.6,387.9 C102.9,386.9 108.2,385.4 113.5,384.0 C118.8,382.6 124.1,381.1 129.4,379.2 C134.7,377.3 139.9,374.8 145.2,372.9 C150.5,371.0 155.8,369.6 161.1,368.1 C166.4,366.6 171.7,365.4 177.0,364.1 C182.3,362.8 187.6,361.4 192.9,360.2 C198.2,359.0 203.4,358.1 208.7,357.0 C214.0,355.9 219.3,354.9 224.6,353.8 C229.9,352.7 236.3,351.4 240.5,350.6 C244.7,349.8 243.7,350.1 250.0,349.0 C256.4,347.9 270.3,346.3 278.6,344.3 C286.9,342.3 292.9,339.5 300.0,337.1 C307.1,334.7 314.2,331.9 321.4,330.0 C328.5,328.1 336.9,326.9 342.9,325.7 C348.8,324.5 352.4,323.7 357.1,322.9 C361.9,322.1 366.6,321.3 371.4,320.7 C376.2,320.1 380.9,319.6 385.7,319.3 C390.5,319.0 394.1,319.0 400.0,318.8 C405.9,318.6 414.2,318.2 421.4,317.9 C428.5,317.6 435.8,317.1 442.9,316.9 C450.0,316.7 458.4,316.7 464.3,316.9 C470.2,317.1 473.8,317.4 478.6,318.3 C483.4,319.2 488.1,320.5 492.9,322.1 C497.6,323.7 502.4,325.9 507.1,327.9 C511.9,329.9 515.9,331.6 521.4,334.3 C526.9,337.0 534.1,341.4 540.0,344.2 C545.9,346.9 551.2,348.4 556.7,350.8 C562.2,353.2 567.8,355.4 573.3,358.3 C578.8,361.2 584.4,365.1 590.0,368.3 C595.6,371.5 601.2,374.6 606.7,377.5 C612.2,380.4 617.8,383.2 623.3,385.8 C628.8,388.4 634.4,390.9 640.0,393.3 C645.6,395.7 651.2,397.8 656.7,400.0 C662.2,402.2 667.8,404.7 673.3,406.7 C678.8,408.7 684.0,409.8 690.0,411.8 C696.0,413.9 702.6,416.6 709.0,419.0 C715.4,421.4 721.8,424.1 728.1,426.0 C734.5,427.9 740.8,429.1 747.1,430.5 C753.5,431.9 759.9,433.2 766.2,434.3 C772.6,435.4 778.9,436.0 785.2,436.8 C791.6,437.6 797.9,438.1 804.3,439.4 C810.6,440.7 816.9,442.8 823.3,444.4 C829.6,446.0 836.4,448.0 842.4,449.3 C848.4,450.6 853.0,451.2 859.0,452.1 C865.0,453.0 871.8,454.1 878.1,454.6 C884.5,455.1 890.8,455.3 897.1,455.2 C903.5,455.1 910.9,454.5 916.2,454.0 C921.5,453.5 924.7,452.9 928.9,452.1 C933.1,451.4 937.4,450.4 941.6,449.5 C945.8,448.6 950.1,447.7 954.3,447.0 C958.5,446.3 962.8,445.7 967.0,445.1 C971.2,444.5 975.2,443.8 979.7,443.2 C984.2,442.6 991.4,441.6 993.7,441.3" fill="none" stroke="#6a80b4" stroke-width="2" stroke-opacity="0.9"/>
<line x1="49" y1="238.8" x2="1078" y2="238.8" stroke="#f21c1c" stroke-width="3.8"/>
<line x1="49" y1="302.6" x2="1078" y2="302.6" stroke="#f21c1c" stroke-width="3.8"/>
<line x1="49" y1="466.8" x2="1078" y2="466.8" stroke="#3f72e0" stroke-width="2"/>
<line x1="49" y1="521.5" x2="1078" y2="521.5" stroke="#86c286" stroke-width="1.6"/>
<line x1="49" y1="576.2" x2="1078" y2="576.2" stroke="#86c286" stroke-width="1.6"/>
<line x1="352" y1="341" x2="954.5" y2="410.5" stroke="#3a5597" stroke-width="3.4" stroke-linecap="round"/>
<line x1="595" y1="527" x2="938" y2="481" stroke="#3a5597" stroke-width="3.4" stroke-linecap="round"/>
<line x1="1008" y1="360.7" x2="1077" y2="360.7" stroke="#b3b3b3" stroke-width="3.4" stroke-dasharray="3.5 4.6"/>
<line x1="993.6" y1="441.2" x2="1077" y2="441.2" stroke="#c3cad8" stroke-width="3.2" stroke-dasharray="3.4 4.7"/>
<line x1="1002.5" y1="359.2" x2="1059" y2="260.5" stroke="#2f62ad" stroke-width="7" stroke-linecap="round"/>
<polygon points="1072,238.5 1045.8,254.2 1071.7,269.2" fill="#2f62ad"/>
<path d="M1075.3,238.9 L1089.4,222.7 L1221.0,222.7 Q1221.5,222.7 1221.5,223.2 L1221.5,254.6 Q1221.5,255.1 1221.0,255.1 L1089.4,255.1 Z" fill="#ff0000"/><text x="1095.8" y="246.8" font-size="22.4" fill="#fff">154.35</text>
<path d="M1075.3,302.5 L1089.4,286.3 L1221.0,286.3 Q1221.5,286.3 1221.5,286.8 L1221.5,318.2 Q1221.5,318.7 1221.0,318.7 L1089.4,318.7 Z" fill="#ff0000"/><text x="1095.8" y="310.4" font-size="22.4" fill="#fff">154.00</text>
<path d="M1076,360.5 L1089.4,345.6 L1220.0,345.6 Q1221.5,345.6 1221.5,347.1 L1221.5,373.9 Q1221.5,375.4 1220.0,375.4 L1089.4,375.4 Z" fill="#333333"/><text x="1095.8" y="368.4" font-size="22.4" fill="#fff">153.68</text>
<path d="M1077.2,466.8 L1089.4,451.9 L1220.0,451.9 Q1221.5,451.9 1221.5,453.4 L1221.5,480.2 Q1221.5,481.7 1220.0,481.7 L1089.4,481.7 Z" fill="#1d63ee"/><text x="1095.8" y="474.7" font-size="22.4" fill="#fff">153.10</text>
<text x="1096" y="528.6" font-size="22.4" fill="#2a9a2a">152.80</text>
<text x="1096" y="583.3" font-size="22.4" fill="#2a9a2a">152.50</text>
<rect x="55.4" y="625" width="24.4" height="9" fill="#5b80e0"/>
<text x="94.5" y="636.1" font-size="20.4" fill="#777">RSI</text>
<rect x="153.5" y="625" width="25.8" height="9" fill="#ff1010"/>
<text x="192.5" y="636.1" font-size="20.4" fill="#777">9MA</text>
<line x1="49.3" y1="673.6" x2="1077" y2="673.6" stroke="#cccccc" stroke-width="2.6" stroke-dasharray="2 6.17"/>
<line x1="49.3" y1="710.6" x2="1077" y2="710.6" stroke="#cccccc" stroke-width="2.6" stroke-dasharray="2 6.17"/>
<line x1="49.3" y1="748.6" x2="1077" y2="748.6" stroke="#cccccc" stroke-width="2.6" stroke-dasharray="2 6.17"/>
<text x="1096" y="680.5" font-size="22" fill="#808080">70</text>
<text x="1096" y="717.5" font-size="22" fill="#808080">50</text>
<text x="1096" y="755.6" font-size="22" fill="#808080">30</text>
<path d="M55.2,703.0 C57.8,703.6 65.4,707.9 70.5,706.5 C75.6,705.1 80.2,699.8 85.7,694.6 C91.2,689.5 98.4,678.3 103.5,675.6 C108.6,672.9 112.8,679.9 116.2,678.6 C119.6,677.3 121.0,671.0 123.8,668.0 C126.5,665.0 129.7,660.4 132.7,660.8 C135.7,661.2 138.8,666.8 141.6,670.5 C144.3,674.2 146.2,680.5 149.2,683.2 C152.2,686.0 155.6,686.1 159.4,687.0 C163.2,687.9 168.4,688.8 172.0,688.3 C175.6,687.8 178.0,683.8 181.0,683.7 C184.0,683.6 187.1,687.2 189.8,687.7 C192.6,688.2 195.4,687.8 197.5,687.0 C199.6,686.2 200.0,682.6 202.5,683.2 C205.0,683.8 209.3,689.9 212.7,690.8 C216.1,691.7 219.1,689.0 222.9,688.8 C226.7,688.6 230.9,686.6 235.6,689.5 C240.2,692.4 247.0,704.4 250.8,706.0 C254.6,707.6 255.9,696.1 258.4,698.9 C260.9,701.6 263.4,719.4 266.0,722.5 C268.6,725.6 270.9,717.1 273.7,717.5 C276.4,717.9 278.7,723.8 282.5,724.6 C286.3,725.4 292.9,724.5 296.5,722.5 C300.1,720.5 301.6,713.9 304.1,712.4 C306.6,710.9 308.9,712.1 311.7,713.7 C314.4,715.3 317.6,722.6 320.6,721.8 C323.6,720.9 326.8,710.6 329.5,708.6 C332.2,706.6 334.6,707.6 337.1,709.8 C339.7,712.0 341.2,720.6 344.8,721.8 C348.4,723.0 355.2,720.1 358.9,716.9 C362.6,713.7 364.3,702.6 367.0,702.6 C369.7,702.6 372.4,714.2 375.1,716.9 C377.8,719.6 380.5,715.9 383.2,718.8 C385.9,721.7 388.7,730.3 391.3,734.4 C393.9,738.5 396.3,744.4 398.8,743.3 C401.3,742.2 403.8,730.9 406.1,727.7 C408.5,724.5 410.4,724.3 412.9,724.2 C415.4,724.1 418.3,727.5 421.0,726.9 C423.7,726.3 426.3,720.6 429.0,720.4 C431.7,720.2 434.4,724.1 437.1,725.8 C439.8,727.5 442.5,730.8 445.2,730.4 C447.9,730.0 450.6,723.1 453.3,723.1 C456.0,723.1 458.7,729.0 461.4,730.4 C464.1,731.8 466.8,730.2 469.5,731.7 C472.2,733.2 475.1,738.5 477.6,739.3 C480.1,740.1 481.9,735.3 484.4,736.3 C486.9,737.3 489.8,743.3 492.5,745.2 C495.2,747.1 497.9,745.6 500.6,747.9 C503.3,750.1 505.7,756.5 508.6,758.7 C511.5,760.9 514.4,759.5 518.1,760.9 C521.8,762.3 527.6,769.5 531.0,767.4 C534.4,765.3 535.5,751.6 538.3,748.5 C541.1,745.4 545.1,748.7 547.8,748.5 C550.5,748.3 552.2,748.9 554.5,747.4 C556.8,745.9 558.8,742.2 561.3,739.8 C563.8,737.4 566.7,733.8 569.4,733.1 C572.1,732.4 574.8,734.2 577.5,735.8 C580.2,737.4 582.9,741.2 585.6,742.5 C588.3,743.8 590.9,744.7 593.6,743.3 C596.3,741.9 599.0,735.1 601.7,733.9 C604.4,732.6 607.1,735.3 609.8,735.8 C612.5,736.3 615.2,735.1 617.9,737.1 C620.6,739.1 623.3,748.4 626.0,747.9 C628.7,747.4 631.4,738.1 634.1,734.4 C636.8,730.7 639.5,729.8 642.2,725.8 C644.9,721.8 647.8,713.7 650.3,710.7 C652.8,707.7 654.8,707.0 657.0,708.0 C659.2,709.0 661.3,713.8 663.8,716.9 C666.3,720.0 669.1,727.7 671.9,726.9 C674.7,726.1 678.0,714.2 680.8,712.3 C683.6,710.4 686.4,714.4 688.9,715.6 C691.4,716.8 693.4,720.3 695.6,719.6 C697.9,718.9 699.5,712.6 702.4,711.5 C705.3,710.4 709.6,714.9 713.2,712.9 C716.8,710.9 720.4,703.2 724.0,699.4 C727.6,695.6 731.6,691.6 734.8,689.9 C737.9,688.2 740.2,688.4 742.9,689.1 C745.6,689.8 748.3,692.8 751.0,694.0 C753.7,695.2 756.3,695.9 759.0,696.1 C761.7,696.3 764.4,696.5 767.1,695.3 C769.8,694.0 772.5,688.9 775.2,688.6 C777.9,688.3 781.0,692.9 783.3,693.4 C785.5,693.9 786.5,689.9 788.7,691.8 C791.0,693.7 794.1,702.0 796.8,704.8 C799.5,707.6 802.2,705.1 804.9,708.8 C807.6,712.5 810.3,724.5 813.0,726.9 C815.7,729.3 818.0,723.3 821.1,723.1 C824.2,722.9 828.3,725.2 831.9,725.8 C835.5,726.4 840.0,729.5 842.7,726.9 C845.4,724.3 845.9,715.0 848.1,710.2 C850.4,705.4 853.5,699.7 856.2,698.0 C858.9,696.3 861.1,696.5 864.3,699.9 C867.4,703.3 872.0,715.3 875.1,718.3 C878.2,721.3 881.0,717.2 883.2,717.7 C885.5,718.2 885.9,719.5 888.6,721.0 C891.3,722.5 896.2,728.6 899.4,726.9 C902.5,725.2 904.8,711.8 907.5,710.7 C910.2,709.6 912.8,720.3 915.5,720.4 C918.2,720.5 920.9,713.9 923.6,711.5 C926.3,709.1 929.0,707.6 931.7,706.1 C934.4,704.6 937.3,705.5 939.8,702.6 C942.3,699.7 943.9,689.4 946.6,688.6 C949.3,687.8 952.6,696.3 956.0,698.0 C959.4,699.7 963.2,698.6 966.8,698.8 C970.4,699.0 974.5,699.1 977.6,699.4 C980.8,699.7 983.0,703.4 985.7,700.7 C988.4,698.0 992.4,686.1 993.8,683.2" fill="none" stroke="#7c99e8" stroke-width="1.3" stroke-linejoin="round"/>
<path d="M55.2,701.7 C57.8,702.0 65.4,703.4 70.5,703.5 C75.6,703.6 80.2,703.7 85.7,702.2 C91.2,700.7 98.4,696.3 103.5,694.6 C108.6,692.9 111.5,693.8 116.2,692.1 C120.9,690.4 126.8,686.7 131.4,684.4 C136.1,682.1 139.4,679.5 144.1,678.1 C148.8,676.7 154.8,676.3 159.4,676.1 C164.1,675.9 167.8,676.4 172.0,676.8 C176.2,677.2 180.6,677.6 184.8,678.6 C189.1,679.6 193.3,681.4 197.5,682.7 C201.7,684.0 204.7,685.5 210.2,686.2 C215.7,687.0 225.4,686.9 230.5,687.2 C235.6,687.6 235.9,687.4 240.6,688.3 C245.2,689.2 252.9,690.7 258.4,692.8 C263.9,694.9 268.6,698.3 273.7,701.0 C278.8,703.7 284.2,707.0 288.9,709.1 C293.5,711.2 297.4,712.3 301.6,713.7 C305.8,715.1 310.5,716.7 314.3,717.5 C318.1,718.3 319.3,718.8 324.4,718.7 C329.5,718.7 339.9,717.4 344.8,717.2 C349.7,717.0 349.8,718.2 353.5,717.7 C357.2,717.2 362.1,714.6 367.0,714.2 C371.9,713.9 377.8,714.4 383.2,715.6 C388.6,716.8 394.4,720.2 399.4,721.5 C404.3,722.8 408.0,722.5 412.9,723.1 C417.8,723.7 423.6,724.0 429.0,725.0 C434.4,726.0 439.8,728.5 445.2,729.0 C450.6,729.5 456.4,727.9 461.4,727.7 C466.3,727.5 469.9,727.0 474.9,727.7 C479.8,728.4 485.7,729.9 491.1,731.7 C496.5,733.5 501.9,736.0 507.3,738.5 C512.7,741.0 518.5,744.4 523.5,746.6 C528.5,748.9 531.6,750.6 537.0,752.0 C542.4,753.4 550.0,754.9 555.9,754.7 C561.8,754.5 566.2,752.2 572.1,750.6 C578.0,749.0 585.6,746.9 591.0,745.2 C596.4,743.5 599.0,741.5 604.4,740.4 C609.8,739.3 617.9,739.0 623.3,738.5 C628.7,738.0 632.3,738.6 636.8,737.7 C641.3,736.8 645.8,734.8 650.3,733.1 C654.8,731.4 658.8,729.2 663.8,727.7 C668.8,726.2 676.3,724.9 680.0,724.0 C683.7,723.1 682.5,723.6 686.2,722.3 C689.9,721.0 695.6,717.6 702.4,716.1 C709.1,714.6 719.5,715.3 726.7,713.4 C733.9,711.5 738.9,707.2 745.6,704.8 C752.3,702.4 759.9,700.8 767.1,698.8 C774.3,696.8 783.3,693.4 788.7,692.6 C794.1,691.8 794.1,692.1 799.5,694.0 C804.9,695.9 813.5,700.8 821.1,704.2 C828.8,707.6 838.2,712.3 845.4,714.2 C852.6,716.1 857.5,715.3 864.3,715.6 C871.0,715.9 878.7,716.3 885.9,716.1 C893.1,715.9 901.2,714.2 907.5,714.2 C913.8,714.2 918.7,715.7 923.6,716.1 C928.5,716.5 932.2,717.9 937.1,716.9 C942.0,715.9 948.3,712.2 953.3,710.2 C958.2,708.2 962.3,706.4 966.8,704.8 C971.3,703.2 975.8,702.0 980.3,700.7 C984.8,699.4 991.5,697.8 993.8,697.2" fill="none" stroke="#f03838" stroke-width="1.8" stroke-linejoin="round"/>
<line x1="1000" y1="683.2" x2="1077" y2="683.2" stroke="#b8c6f0" stroke-width="2.6" stroke-dasharray="3.4 4.7"/>
<path d="M49.5,784.5 L49.5,772.6 L1077.5,772.6 L1077.5,784.5" fill="none" stroke="#b0b0b0" stroke-width="2.6"/>
<text x="250.5" y="807.4" font-size="22.5" fill="#7a7a7a" text-anchor="middle">Nov 6</text>
<text x="625.5" y="807.4" font-size="22.5" fill="#7a7a7a" text-anchor="middle">Nov 7</text>
<text x="993" y="807.4" font-size="22.5" fill="#7a7a7a" text-anchor="middle">Nov 10</text>
<rect x="1164.3" y="762.4" width="47.6" height="47.6" rx="5" fill="#fcfcfc"/><path d="M1188,776 L1188,789 M1182.5,784 L1188,790 L1193.5,784 M1176.5,795.5 L1199.5,795.5" fill="none" stroke="#fff" stroke-width="3"/>
</svg></body></html>
